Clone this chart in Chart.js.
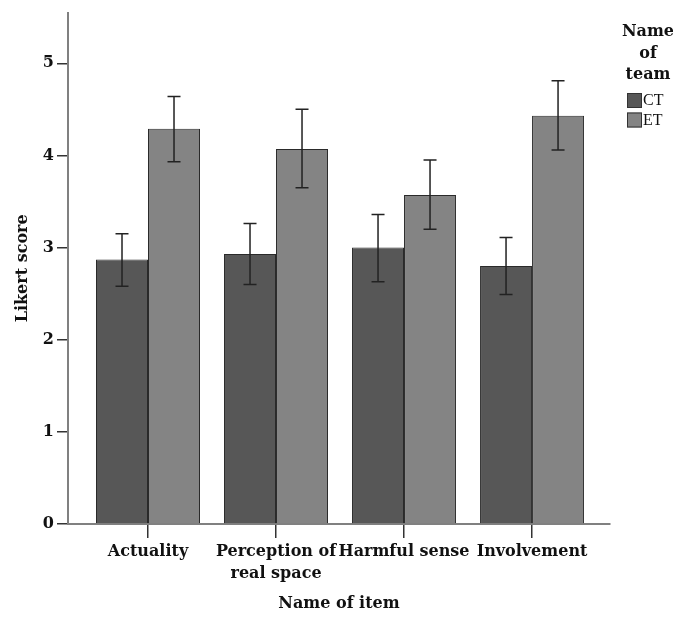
<!DOCTYPE html>
<html>
<head>
<meta charset="utf-8">
<script src="https://cdn.jsdelivr.net/npm/chart.js@4/dist/chart.umd.min.js"></script>
<style>
  html, body { margin: 0; padding: 0; background: #fff; }
  #wrap { width: 673px; height: 617px; }
</style>
</head>
<body>
<div id="wrap"><canvas id="myChart" width="673" height="617"></canvas></div>
<script>
// values
const categories = ['Actuality', ['Perception of', 'real space'], 'Harmful sense', 'Involvement'];
const ctMean = [2.87, 2.93, 3.00, 2.80];
const ctLow  = [2.58, 2.60, 2.63, 2.49];
const ctHigh = [3.15, 3.26, 3.36, 3.11];
const etMean = [4.29, 4.07, 3.57, 4.43];
const etLow  = [3.93, 3.65, 3.20, 4.06];
const etHigh = [4.64, 4.50, 3.95, 4.81];
const yTicks = [0, 1, 2, 3, 4, 5];
const legendTitle = ['Name', 'of', 'team'];

const serif = "'DejaVu Serif', serif";

// error bars drawn from the y scale
const errorBars = {
  id: 'errorBars',
  afterDatasetsDraw(chart) {
    const ctx = chart.ctx;
    const y = chart.scales.y;
    ctx.save();
    ctx.strokeStyle = '#222';
    ctx.lineWidth = 1.5;
    chart.data.datasets.forEach((ds, i) => {
      chart.getDatasetMeta(i).data.forEach((bar, j) => {
        const top = y.getPixelForValue(ds.high[j]);
        const bot = y.getPixelForValue(ds.low[j]);
        ctx.beginPath();
        ctx.moveTo(bar.x, top); ctx.lineTo(bar.x, bot);
        ctx.moveTo(bar.x - 6.5, top); ctx.lineTo(bar.x + 6.5, top);
        ctx.moveTo(bar.x - 6.5, bot); ctx.lineTo(bar.x + 6.5, bot);
        ctx.stroke();
      });
    });
    ctx.restore();
  }
};

// legend on the right with a three line title
const sideLegend = {
  id: 'sideLegend',
  afterDraw(chart) {
    const ctx = chart.ctx;
    ctx.save();
    ctx.fillStyle = '#111';
    ctx.font = 'bold 16px ' + serif;
    ctx.textAlign = 'center';
    ctx.textBaseline = 'middle';
    legendTitle.forEach((t, i) => ctx.fillText(t, 648, 32 + i * 21.5));
    ctx.textAlign = 'left';
    ctx.font = "16px 'Liberation Serif', serif";
    chart.data.datasets.forEach((ds, i) => {
      const top = 93 + i * 19.5;
      ctx.fillStyle = ds.backgroundColor;
      ctx.fillRect(627, top, 15, 15);
      ctx.strokeStyle = '#333';
      ctx.lineWidth = 1;
      ctx.strokeRect(627.5, top + 0.5, 14, 14);
      ctx.fillStyle = '#111';
      ctx.fillText(ds.label, 643, top + 8);
    });
    ctx.restore();
  }
};

new Chart(document.getElementById('myChart'), {
  type: 'bar',
  data: {
    labels: categories,
    datasets: [
      { label: 'CT', data: ctMean, low: ctLow, high: ctHigh,
        backgroundColor: '#575757', borderColor: '#2a2a2a', borderWidth: 1 },
      { label: 'ET', data: etMean, low: etLow, high: etHigh,
        backgroundColor: '#848484', borderColor: '#2a2a2a', borderWidth: 1 }
    ]
  },
  options: {
    responsive: false,
    animation: false,
    layout: { padding: { top: 11, right: 63, left: 0, bottom: 0 } },
    categoryPercentage: 0.8125,
    barPercentage: 1,
    plugins: { legend: { display: false }, tooltip: { enabled: false } },
    scales: {
      x: {
        // extra room between the y axis and the first group
        afterBuildTicks: s => { s._startValue = -0.625; s._valueRange = 4.234; },
        afterFit: s => { s.height = 93; },
        border: { color: '#808080', width: 2 },
        grid: { display: true, offset: false, drawOnChartArea: false, drawTicks: true,
                tickLength: 14, color: '#333', lineWidth: 1.5 },
        ticks: { color: '#111', padding: 3, maxRotation: 0, autoSkip: false,
                 font: { family: serif, size: 16, weight: 'bold', lineHeight: 1.35 } },
        title: { display: true, text: 'Name of item', color: '#111',
                 padding: { top: 0, bottom: 4 },
                 font: { family: serif, size: 16, weight: 'bold' } }
      },
      y: {
        min: 0,
        max: 5.55,
        afterFit: s => { s.width = 68; },
        afterBuildTicks: s => { s.ticks = yTicks.map(v => ({ value: v })); },
        border: { color: '#808080', width: 2 },
        grid: { display: true, drawOnChartArea: false, drawTicks: true,
                tickLength: 11, color: '#333', lineWidth: 1.5 },
        ticks: { color: '#111', padding: 3,
                 font: { family: serif, size: 16, weight: 'bold' } },
        title: { display: true, text: 'Likert score', color: '#111',
                 padding: { top: 13, bottom: 0 },
                 font: { family: serif, size: 16, weight: 'bold' } }
      }
    }
  },
  plugins: [errorBars, sideLegend]
});
</script>
</body>
</html>
